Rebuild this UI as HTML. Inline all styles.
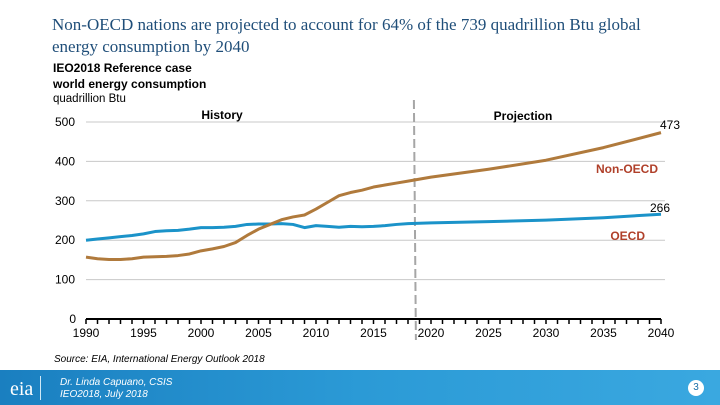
<!DOCTYPE html>
<html><head><meta charset="utf-8"><style>
body{margin:0;width:720px;height:405px;overflow:hidden;background:#fff;position:relative;font-family:"Liberation Sans",sans-serif}
.t{position:absolute}
</style></head><body>
<div class="t" style="left:52px;top:14px;font-family:'Liberation Serif',serif;font-size:17px;line-height:22px;color:#1f4e79;width:600px">Non-OECD nations are projected to account for 64% of the 739 quadrillion Btu global energy consumption by 2040</div>
<div class="t" style="left:53px;top:60px;font-size:12px;font-weight:bold;line-height:16px;color:#000">IEO2018 Reference case<br>world energy consumption</div>
<div class="t" style="left:53px;top:93px;font-size:11.5px;color:#000">quadrillion Btu</div>
<svg id="c" class="t" style="left:0;top:0" width="720" height="370"></svg>
<div class="t" style="left:54px;top:354px;font-size:10px;font-style:italic;color:#000">Source: EIA, International Energy Outlook 2018</div>
<div class="t" style="left:0;top:370px;width:720px;height:35px;background:linear-gradient(90deg,#1a7fc0,#2b9ad6 50%,#3aa8e0)"></div>
<div class="t" style="left:10px;top:378px;font-family:'Liberation Serif',serif;font-size:20px;color:#fff">eia</div>
<div class="t" style="left:40px;top:376px;width:1px;height:24px;background:#cfe8f6"></div>
<div class="t" style="left:60px;top:377px;font-size:10px;font-style:italic;line-height:12px;color:#fff">Dr. Linda Capuano, CSIS<br>IEO2018, July 2018</div>
<div class="t" style="left:688px;top:380px;width:16px;height:16px;border-radius:8px;background:#fff;color:#1a6fa8;font-size:10px;text-align:center;line-height:16px">3</div>
<script>
const years=[1990,1991,1992,1993,1994,1995,1996,1997,1998,1999,2000,2001,2002,2003,2004,2005,2006,2007,2008,2009,2010,2011,2012,2013,2014,2015,2016,2017,2018,2019,2020,2025,2030,2035,2040];
const oecd=[200,203,206,209,212,216,222,224,225,228,232,232,233,235,240,241,241,242,240,232,237,235,233,235,234,235,237,240,242,243,244,247,251,257,266];
const nonOecd=[157,153,151,151,153,157,158,159,161,165,173,178,184,194,212,228,240,252,259,264,279,296,313,321,327,335,340,345,350,355,360,380,403,435,473];
const yTicks=[0,100,200,300,400,500];
const xTicks=[1990,1995,2000,2005,2010,2015,2020,2025,2030,2035,2040];
const divider=2018.6;
const X=y=>86+(y-1990)*11.5, Y=v=>319-v*0.394;
const s=document.getElementById('c');const N='http://www.w3.org/2000/svg';
function el(t,a,txt){const e=document.createElementNS(N,t);for(const k in a)e.setAttribute(k,a[k]);if(txt!=null)e.textContent=txt;s.appendChild(e);return e;}
yTicks.forEach(v=>{
 if(v>0){const g=el('line',{x1:86,x2:665,y1:Y(v),y2:Y(v),stroke:'#c8c8c8','stroke-width':1});
 
 }
 const t=el('text',{x:v===0?76:75,y:Y(v)+4,'text-anchor':'end','font-size':12,fill:'#000'},v);
 
 
});
const ax=el('line',{x1:86,x2:661,y1:319,y2:319,stroke:'#000','stroke-width':2});


for(let y=1990;y<=2040;y++){const k=el('line',{x1:X(y),x2:X(y),y1:319,y2:324,stroke:'#000','stroke-width':1.5});

}
xTicks.forEach(y=>{const t=el('text',{x:X(y),y:337,'text-anchor':'middle','font-size':12,fill:'#000'},y);

});
const d=el('line',{x1:X(divider)-1,x2:X(divider)+1,y1:100,y2:340,stroke:'#a6a6a6','stroke-width':2,'stroke-dasharray':'9,4'});


function line(vals,col,name){const p=el('polyline',{points:years.map((y,i)=>X(y)+','+Y(vals[i])).join(' '),fill:'none',stroke:col,'stroke-width':3,'stroke-linejoin':'round'});

}
line(oecd,'#1b93c9','oecd-line');
line(nonOecd,'#b07a3c','non-oecd-line');
const labs=[[222,119,'History','middle','#000','history-label'],[523,120,'Projection','middle','#000','projection-label'],[680,129,nonOecd[nonOecd.length-1],'end','#000','non-oecd-end-value'],[658,173,'Non-OECD','end','#b0402a','non-oecd-label'],[670,212,oecd[oecd.length-1],'end','#000','oecd-end-value'],[645,240,'OECD','end','#b0402a','oecd-label']];
labs.forEach(l=>{const t=el('text',{x:l[0],y:l[1],'text-anchor':l[3],'font-size':12,'font-weight':'bold',fill:l[4]},l[2]);
if(l[5].indexOf('value')>0)t.setAttribute('font-weight','normal');

});
</script>
</body></html>
